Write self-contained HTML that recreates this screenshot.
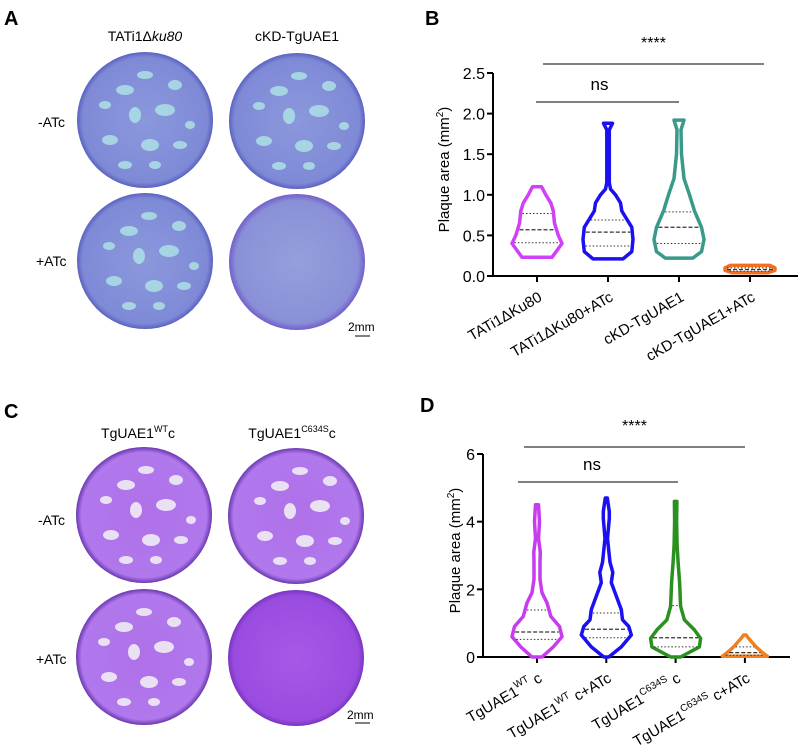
<!DOCTYPE html>
<html><head><meta charset="utf-8"><style>
body{margin:0;background:#fff;width:800px;height:751px;overflow:hidden;font-family:"Liberation Sans",Arial,sans-serif}
svg{position:absolute;left:0;top:0}
</style></head><body>
<svg id="fig" width="800" height="751" viewBox="0 0 800 751">
<defs>
<radialGradient id="gA" cx="50%" cy="50%" r="50%"><stop offset="0" stop-color="#8c98dc"/><stop offset="0.92" stop-color="#7e8ad6"/><stop offset="1" stop-color="#5a62c0"/></radialGradient>
<radialGradient id="gA2" cx="50%" cy="50%" r="50%"><stop offset="0" stop-color="#959fdc"/><stop offset="0.9" stop-color="#8a90d8"/><stop offset="1" stop-color="#7060c8"/></radialGradient>
<radialGradient id="gC" cx="50%" cy="50%" r="50%"><stop offset="0" stop-color="#b070e8"/><stop offset="0.92" stop-color="#b078ec"/><stop offset="1" stop-color="#6a38b0"/></radialGradient>
<radialGradient id="gC2" cx="50%" cy="50%" r="50%"><stop offset="0" stop-color="#a658e6"/><stop offset="0.92" stop-color="#9a4ce0"/><stop offset="1" stop-color="#7a34c0"/></radialGradient>
</defs>
<g id="plates">
<text x="4" y="25" font-size="20" font-weight="bold">A</text>
<text x="145" y="41" font-size="14" text-anchor="middle">TATi1Δ<tspan font-style="italic">ku80</tspan></text>
<text x="297" y="41" font-size="14" text-anchor="middle">cKD-TgUAE1</text>
<text x="38" y="127" font-size="14">-ATc</text>
<text x="36" y="266" font-size="14">+ATc</text>
<text x="348" y="331" font-size="12">2mm</text>
<line x1="355" y1="336" x2="370" y2="336" stroke="#000" stroke-width="1"/>
<text x="4" y="418" font-size="20" font-weight="bold">C</text>
<text x="138" y="438" font-size="14" text-anchor="middle">TgUAE1<tspan font-size="9" dy="-6">WT</tspan><tspan dy="6">c</tspan></text>
<text x="292" y="438" font-size="14" text-anchor="middle">TgUAE1<tspan font-size="9" dy="-6">C634S</tspan><tspan dy="6">c</tspan></text>
<text x="38" y="525" font-size="14">-ATc</text>
<text x="36" y="664" font-size="14">+ATc</text>
<text x="347" y="719" font-size="12">2mm</text>
<line x1="355" y1="723" x2="370" y2="723" stroke="#000" stroke-width="1"/>
</g>
<g id="chartB"></g>
<g id="chartD"></g>
</svg>
<script>
// ---------- Panel B data ----------
const catsB = ["TATi1ΔKu80","TATi1ΔKu80+ATc","cKD-TgUAE1","cKD-TgUAE1+ATc"];
const colorsB = ["#d040f8","#1a10f0","#3a9a8a","#f07020"];
const ticksB = [0,0.5,1.0,1.5,2.0,2.5];
const shapeB0 = [[0.23,0.6],[0.4,1.0],[0.5,0.85],[0.65,0.7],[0.8,0.65],[0.9,0.55],[1.0,0.35],[1.1,0.18]];
const shapeB1 = [[0.21,0.6],[0.3,0.95],[0.45,1.0],[0.6,0.95],[0.7,0.75],[0.8,0.55],[0.9,0.5],[1.0,0.3],[1.07,0.1],[1.15,0.05],[1.8,0.05],[1.88,0.18]];
const shapeB2 = [[0.22,0.55],[0.3,0.9],[0.45,1.0],[0.6,0.9],[0.8,0.62],[1.0,0.42],[1.2,0.2],[1.5,0.1],[1.8,0.08],[1.92,0.2]];
const shapeB3 = [[0.04,0.7],[0.07,1.0],[0.1,1.0],[0.13,0.8]];
const quartB = [[0.41,0.57,0.77],[0.37,0.54,0.69],[0.4,0.6,0.79],[0.06,0.08,0.1]];
// ---------- Panel D data ----------
const catsD = [["TgUAE1","WT","c"],["TgUAE1","WT","c+ATc"],["TgUAE1","C634S","c"],["TgUAE1","C634S","c+ATc"]];
const colorsD = ["#c83cf0","#1a10f0","#2a9020","#f08020"];
const ticksD = [0,2,4,6];
const shapeD0 = [[0,0.2],[0.3,0.65],[0.6,1.0],[0.9,0.9],[1.2,0.55],[1.6,0.4],[1.9,0.2],[2.3,0.12],[2.8,0.12],[3.1,0.13],[3.5,0.06],[4.0,0.1],[4.5,0.06]];
const shapeD1 = [[0,0.1],[0.3,0.6],[0.65,1.0],[0.9,0.9],[1.1,0.65],[1.4,0.6],[1.8,0.4],[2.2,0.2],[2.5,0.26],[2.8,0.15],[3.5,0.05],[4.1,0.12],[4.3,0.12],[4.7,0.04]];
const shapeD2 = [[0,0.2],[0.3,0.95],[0.55,1.0],[0.8,0.75],[1.1,0.35],[1.5,0.2],[2.2,0.16],[2.8,0.1],[3.3,0.06],[4.0,0.04],[4.6,0.05]];
const shapeD3 = [[0.02,0.9],[0.1,0.75],[0.3,0.45],[0.55,0.15],[0.65,0.05]];
const quartD = [[0.52,0.74,1.39],[0.57,0.82,1.3],[0.3,0.57,1.52],[0.05,0.13,0.3]];

const NS="http://www.w3.org/2000/svg";
function mk(parent,tag,attrs){const e=document.createElementNS(NS,tag);for(const k in attrs)e.setAttribute(k,attrs[k]);parent.appendChild(e);return e;}

// plate decoration
(function(){
  const g=document.getElementById('plates');
  const plates=[[145,120,'url(#gA)','#a8d8e4',1],[297,121,'url(#gA)','#a8d8e4',1],[145,261,'url(#gA)','#a8d8e4',1],[297,262,'url(#gA2)','#a8d8e4',0],
                [144,515,'url(#gC)','#ece6f4',1],[296,516,'url(#gC)','#ece6f4',1],[144,657,'url(#gC)','#ece6f4',1],[296,658,'url(#gC2)','#ece6f4',0]];
  const blobs=[[-20,-30,9,5],[20,-10,10,6],[-35,20,8,5],[5,25,9,6],[35,25,7,4],[-10,-5,6,8],[30,-35,7,5],[-40,-15,6,4],[10,45,6,4],[-20,45,7,4],[45,5,5,4],[0,-45,8,4]];
  plates.forEach((p,i)=>{
    const c=mk(g,'circle',{cx:p[0],cy:p[1],r:68,fill:p[2]});
    
    
    if(p[4]>0){ blobs.forEach((b,j)=>{
      const e=mk(g,'ellipse',{cx:p[0]+b[0]+(i%3)*2,cy:p[1]+b[1],rx:b[2],ry:b[3],fill:p[3],opacity:0.95});
      
      
    });}
  });
})();

function violin(g,shape,cx,ys,hw,color,sw){
  let right=shape.map(s=>[cx+s[1]*hw,ys(s[0])]);
  let left=shape.slice().reverse().map(s=>[cx-s[1]*hw,ys(s[0])]);
  const pts=right.concat(left);
  const d='M'+pts.map(p=>p[0].toFixed(1)+','+p[1].toFixed(1)).join('L')+'Z';
  return mk(g,'path',{d:d,fill:'#fff',stroke:color,'stroke-width':sw,'stroke-linejoin':'round'});
}
function widthAt(shape,v){
  for(let i=0;i<shape.length-1;i++){const a=shape[i],b=shape[i+1];if(v>=a[0]&&v<=b[0]){const t=(v-a[0])/(b[0]-a[0]);return a[1]+t*(b[1]-a[1]);}}
  return shape[0][1];
}

function chart(id,cats,colors,ticks,shapes,quarts,o){
  const g=document.getElementById(id);
  const ys=v=>o.y0-(v-o.ymin)/(o.ymax-o.ymin)*(o.y0-o.y1);
  const xs=i=>o.xs0+i*o.dx;
  const ax=mk(g,'line',{x1:o.ax,y1:ys(o.ymax),x2:o.ax,y2:o.y0,stroke:'#000','stroke-width':2});
  
  
  const bx=mk(g,'line',{x1:o.ax,y1:o.y0,x2:o.xend,y2:o.y0,stroke:'#000','stroke-width':2});
  
  
  ticks.forEach(t=>{
    const l=mk(g,'line',{x1:o.ax-6,y1:ys(t),x2:o.ax,y2:ys(t),stroke:'#000','stroke-width':2});
    
    
    const tx=mk(g,'text',{x:o.ax-8,y:ys(t)+6,'font-size':16,'text-anchor':'end'});
    tx.textContent=o.fmt(t);
    
    
  });
  const yl=mk(g,'text',{x:0,y:0,'font-size':15,'text-anchor':'middle',transform:`translate(${o.ylx},${(ys(o.ymax)+o.y0)/2+o.yloff}) rotate(-90)`});
  yl.innerHTML='Plaque area (mm<tspan font-size="10" dy="-6">2</tspan><tspan dy="6">)</tspan>';
  
  
  cats.forEach((c,i)=>{
    const x=xs(i);
    const tk=mk(g,'line',{x1:x,y1:o.y0,x2:x,y2:o.y0+6,stroke:'#000','stroke-width':2});
    
    
    const v=violin(g,shapes[i],x,ys,o.hw,colors[i],o.sw);
    
    
    quarts[i].forEach((q,k)=>{
      const w=widthAt(shapes[i],q)*o.hw-2;
      const ql=mk(g,'line',{x1:x-w,y1:ys(q),x2:x+w,y2:ys(q),stroke:'#333','stroke-width':k==1?1.3:1,'stroke-dasharray':k==1?'4,2':'1.5,2'});
      
      
    });
    const lb=mk(g,'text',{x:0,y:0,'font-size':15,'text-anchor':'end',transform:`translate(${x+6},${o.y0+24}) rotate(-30)`});
    if(Array.isArray(c)) lb.innerHTML=c[0]+'<tspan font-size="10" dy="-7">'+c[1]+'</tspan><tspan dy="7"> '+c[2]+'</tspan>';
    else lb.textContent=c;
    
    
  });
  o.sig.forEach(s=>{
    const l=mk(g,'line',{x1:s[0],y1:s[2],x2:s[1],y2:s[2],stroke:'#000','stroke-width':1});
    
    
    const t=mk(g,'text',{x:(s[0]+s[1])/2+s[5],y:s[2]-s[4],'font-size':s[6],'text-anchor':'middle'});
    t.textContent=s[3];
    
    
  });
  if(o.label){const t=mk(g,'text',{x:o.label[0],y:o.label[1],'font-size':20,'font-weight':'bold'});t.textContent=o.label[2];
    
    }
}
chart('chartB',catsB,colorsB,ticksB,[shapeB0,shapeB1,shapeB2,shapeB3],quartB,{
  ymin:0,ymax:2.5,y0:276,y1:73,ax:493,xend:798,xs0:537,dx:71,hw:25,sw:3.5,ylx:449,yloff:-5,
  fmt:t=>t.toFixed(1),label:[425,25,'B'],
  sig:[[543,764,64,'****',16,0,16],[536,679,102,'ns',12,-8,17]]});
chart('chartD',catsD,colorsD,ticksD,[shapeD0,shapeD1,shapeD2,shapeD3],quartD,{
  ymin:0,ymax:6,y0:657,y1:454,ax:483,xend:790,xs0:537,dx:69.3,hw:25,sw:3.5,ylx:460,yloff:-5,
  fmt:t=>String(t),label:[420,412,'D'],
  sig:[[524,745,447,'****',16,-0,16],[518,678,482,'ns',12,-6,17]]});
</script>
</body></html>
